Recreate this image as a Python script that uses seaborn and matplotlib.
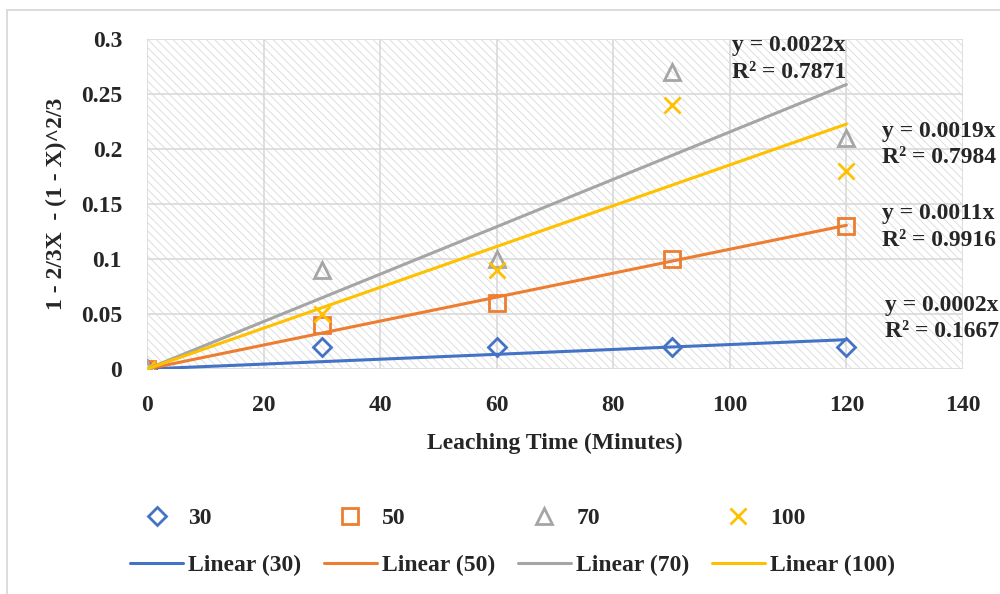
import numpy as np
import matplotlib
matplotlib.use("Agg")
import matplotlib.pyplot as plt
import seaborn as sns
from matplotlib.patches import Rectangle

# data
time_min = [0, 30, 60, 90, 120]
y_30 = [0, 0.02, 0.02, 0.02, 0.02]
y_50 = [0, 0.04, 0.06, 0.10, 0.13]
y_70 = [0, 0.09, 0.10, 0.27, 0.21]
y_100 = [0, 0.05, 0.09, 0.24, 0.18]

series_names = ["30", "50", "70", "100"]
eq_text = ["y = 0.0002x\nR² = 0.1667", "y = 0.0011x\nR² = 0.9916",
           "y = 0.0022x\nR² = 0.7871", "y = 0.0019x\nR² = 0.7984"]
x_ticks = [0, 20, 40, 60, 80, 100, 120, 140]
y_ticks = [0, 0.05, 0.1, 0.15, 0.2, 0.25, 0.3]
y_tick_labels = ["0", "0.05", "0.1", "0.15", "0.2", "0.25", "0.3"]

# styling
colors = ["#4472C4", "#ED7D31", "#A5A5A5", "#FFC000"]
markers = ["D", "s", "^", "x"]
msizes = [9, 11, 12, 11]
eq_pos = [(126.6, 0.046), (126.1, 0.129), (100.4, 0.282), (126.1, 0.204)]

sns.set_style("white")
plt.rcParams["font.family"] = ["Liberation Serif", "DejaVu Serif"]
plt.rcParams["font.weight"] = "bold"
plt.rcParams["hatch.linewidth"] = 0.6
FS = 17

fig = plt.figure(figsize=(10, 5.94), dpi=100)
ax = fig.add_axes([0.147, 0.3788, 0.816, 0.5555])

# hatched plot area
bg = Rectangle((0, 0), 1, 1, transform=ax.transAxes, facecolor="white",
               edgecolor="#d9d9d9", hatch="\\\\\\\\", linewidth=0, zorder=0.1)
ax.add_patch(bg)

all_y = [y_30, y_50, y_70, y_100]
point_handles = []
line_handles = []
x_arr = np.array(time_min, dtype=float)
for name, ys, c, m, ms in zip(series_names, all_y, colors, markers, msizes):
    sns.lineplot(x=time_min, y=ys, ax=ax, linestyle="", marker=m,
                 markersize=ms, markerfacecolor="none", markeredgecolor=c,
                 markeredgewidth=2.0, color=c, legend=False, zorder=3)
    point_handles.append(ax.lines[-1])

for name, ys, c in zip(series_names, all_y, colors):
    y_arr = np.array(ys)
    k = (x_arr * y_arr).sum() / (x_arr ** 2).sum()  # trendline through origin
    xs = [time_min[0], time_min[-1]]
    sns.lineplot(x=xs, y=[k * v for v in xs], ax=ax, color=c, linewidth=2.2,
                 legend=False, zorder=4)
    line_handles.append(ax.lines[-1])

for txt, (tx, ty) in zip(eq_text, eq_pos):
    ax.text(tx, ty, txt, fontsize=FS, fontweight="bold", ha="left", va="center",
            linespacing=1.35, zorder=5)

ax.set_xlim(0, 140)
ax.set_ylim(0, 0.3)
ax.set_xticks(x_ticks)
ax.set_yticks(y_ticks)
ax.set_yticklabels(y_tick_labels)
ax.grid(True, color="#d9d9d9", linewidth=1.2)
ax.set_axisbelow(True)
for sp in ax.spines.values():
    sp.set_visible(False)
ax.tick_params(axis="both", length=0, labelsize=FS)
ax.tick_params(axis="x", pad=19)
ax.tick_params(axis="y", pad=18)
ax.set_xlabel("Leaching Time (Minutes)", fontsize=FS, fontweight="bold", labelpad=12)
ax.set_ylabel("1 - 2/3X  - (1 - X)^2/3", fontsize=FS, fontweight="bold", labelpad=10)

handles = []
labels = []
for i, name in enumerate(series_names):
    handles += [point_handles[i], line_handles[i]]
    labels += [name, f"Linear ({name})"]
fig.legend(handles, labels, loc="center left", bbox_to_anchor=(0.130, 1 - 542 / 594),
           ncol=4, frameon=False, fontsize=FS, borderpad=0, borderaxespad=0,
           handlelength=2.25, handletextpad=0.22, columnspacing=0.95, labelspacing=1.1)

fig.patches.append(Rectangle((0.007, -0.02), 1.0, 1 - 10 / 594 + 0.02,
                             transform=fig.transFigure, fill=False,
                             edgecolor="#d9d9d9", linewidth=1.3))

fig.savefig("out.png", dpi=100)
